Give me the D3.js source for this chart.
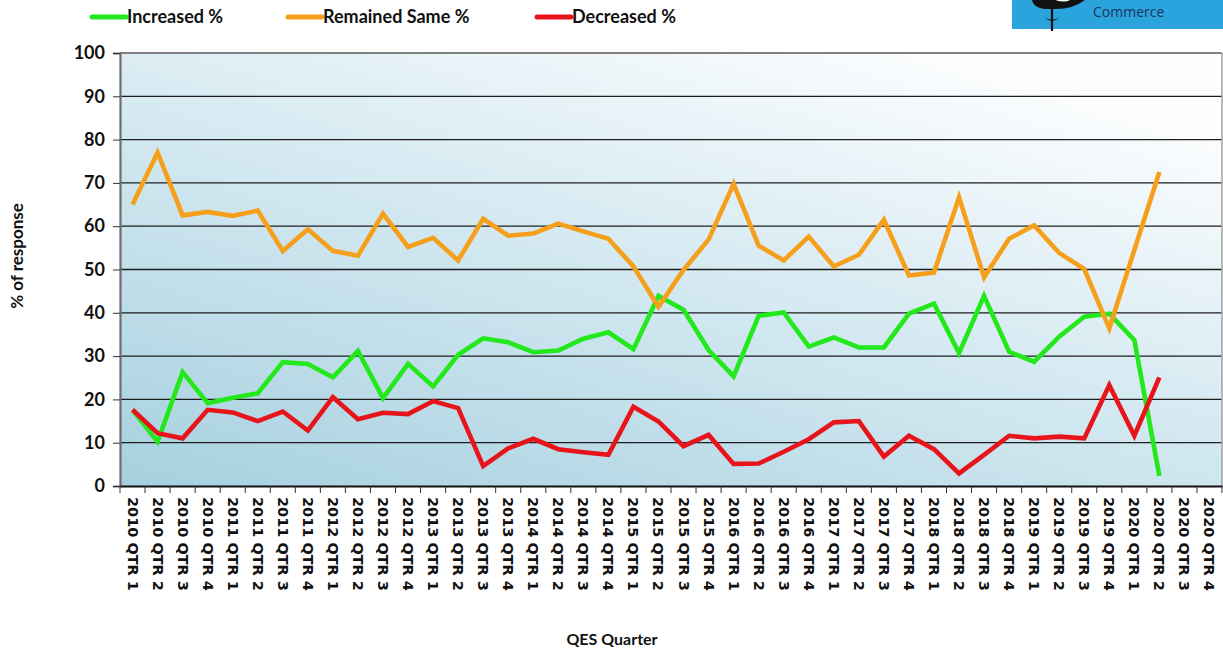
<!DOCTYPE html>
<html><head><meta charset="utf-8">
<script src="https://cdn.jsdelivr.net/npm/d3@7/dist/d3.min.js"></script>
<style>
body{margin:0;background:#fff;}
svg{display:block;}
</style></head>
<body>
<svg id="c" width="1223" height="653"></svg>
<script>
const categories = [
"2010 QTR 1","2010 QTR 2","2010 QTR 3","2010 QTR 4",
"2011 QTR 1","2011 QTR 2","2011 QTR 3","2011 QTR 4",
"2012 QTR 1","2012 QTR 2","2012 QTR 3","2012 QTR 4",
"2013 QTR 1","2013 QTR 2","2013 QTR 3","2013 QTR 4",
"2014 QTR 1","2014 QTR 2","2014 QTR 3","2014 QTR 4",
"2015 QTR 1","2015 QTR 2","2015 QTR 3","2015 QTR 4",
"2016 QTR 1","2016 QTR 2","2016 QTR 3","2016 QTR 4",
"2017 QTR 1","2017 QTR 2","2017 QTR 3","2017 QTR 4",
"2018 QTR 1","2018 QTR 2","2018 QTR 3","2018 QTR 4",
"2019 QTR 1","2019 QTR 2","2019 QTR 3","2019 QTR 4",
"2020 QTR 1","2020 QTR 2","2020 QTR 3","2020 QTR 4"];

const increased = [17.6,10.2,26.3,19.1,20.4,21.4,28.6,28.2,25.1,31.2,
 20.3,28.2,23.0,30.3,34.1,33.2,30.9,31.3,34.0,35.5,
 31.6,43.9,40.7,31.4,25.3,39.3,40.1,32.2,34.3,32.0,
 32.0,39.8,42.1,30.7,43.9,31.0,28.7,34.5,39.1,39.8,
 33.7,2.3,null,null];

const remainedSame = [65.0,77.0,62.5,63.3,62.4,63.6,54.3,59.3,54.3,53.2,
 62.9,55.2,57.3,52.1,61.7,57.8,58.3,60.6,58.8,57.1,
 50.7,41.4,49.9,56.9,69.8,55.5,52.1,57.6,50.7,53.4,
 61.5,48.6,49.3,66.7,48.2,57.1,60.2,53.8,50.1,36.4,
 54.5,72.5,null,null];

const decreased = [17.6,12.2,11.0,17.6,17.0,15.0,17.2,12.8,20.5,15.4,
 16.9,16.6,19.6,18.0,4.6,8.7,10.9,8.5,7.8,7.2,
 18.3,14.9,9.2,11.8,5.1,5.2,7.9,10.8,14.7,15.0,
 6.8,11.6,8.5,2.9,7.2,11.6,11.0,11.4,11.0,23.3,
 11.6,25.1,null,null];

const yTicks = [0,10,20,30,40,50,60,70,80,90,100];
const seriesNames = ["Increased %","Remained Same %","Decreased %"];
const seriesColors = ["#22e81c","#f59f1a","#e8141c"];

const svg = d3.select("#c");
const L = 120, R = 1222, T = 53, B = 486;

const x = d3.scaleBand().domain(categories).range([L, R]);
const y = d3.scaleLinear().domain([0, 100]).range([B, T]);

// gradient background
const defs = svg.append("defs");
const g = defs.append("linearGradient").attr("id","bg")
  .attr("x1","0%").attr("y1","100%").attr("x2","75%").attr("y2","0%");
g.append("stop").attr("offset","0%").attr("stop-color","#a6d0df");
g.append("stop").attr("offset","55%").attr("stop-color","#d4e9f1");
g.append("stop").attr("offset","100%").attr("stop-color","#fcfdfe");

svg.append("rect").attr("x",L).attr("y",T).attr("width",R-L).attr("height",B-T)
  .attr("fill","url(#bg)");

// gridlines
svg.append("g").selectAll("line").data(yTicks.filter(d=>d>0 && d<100)).join("line")
  .attr("x1",L).attr("x2",R).attr("y1",d=>y(d)).attr("y2",d=>y(d))
  .attr("stroke","#1e1e1e").attr("stroke-width",1.3);

// plot border top/right
svg.append("line").attr("x1",L).attr("x2",R).attr("y1",T).attr("y2",T)
  .attr("stroke","#808080").attr("stroke-width",2);
svg.append("line").attr("x1",R).attr("x2",R).attr("y1",T).attr("y2",B)
  .attr("stroke","#a0a0a0").attr("stroke-width",1.5);

// y axis
const yAxis = svg.append("g").attr("transform",`translate(${L},0)`)
  .call(d3.axisLeft(y).tickValues(yTicks).tickSize(7).tickPadding(8));
yAxis.select(".domain").attr("stroke","#6e6e6e").attr("stroke-width",2.2);
yAxis.selectAll(".tick line").attr("stroke","#333");
yAxis.selectAll("text").attr("font-family","Lato, 'Open Sans', sans-serif")
  .attr("font-weight","bold").attr("font-size","18px").attr("fill","#111");

// x axis
const xAxis = svg.append("g").attr("transform",`translate(0,${B})`)
  .call(d3.axisBottom(x).tickSize(0));
xAxis.select(".domain").attr("stroke","#111").attr("stroke-width",2);
// ticks at band boundaries
const bounds = categories.map(c=>x(c)).concat([R]);
xAxis.append("g").selectAll("line").data(bounds).join("line")
  .attr("x1",d=>d).attr("x2",d=>d).attr("y1",0).attr("y2",7)
  .attr("stroke","#333").attr("stroke-width",1);
xAxis.selectAll(".tick text")
  .attr("transform","rotate(90)")
  .attr("text-anchor","start")
  .attr("dominant-baseline","central")
  .attr("x",11).attr("y",0).attr("dy",null)
  .attr("font-family","'DejaVu Sans', sans-serif")
  .attr("font-weight","bold").attr("font-size","14.5px").attr("fill","#111");

// lines
const allSeries = [increased, remainedSame, decreased];
const line = d3.line()
  .defined(d=>d.v!=null)
  .x(d=>x(d.c)+x.bandwidth()/2)
  .y(d=>y(d.v));
allSeries.forEach((s,i)=>{
  svg.append("path")
    .datum(s.map((v,j)=>({c:categories[j], v})))
    .attr("d",line)
    .attr("fill","none")
    .attr("stroke",seriesColors[i])
    .attr("stroke-width",4.6)
    .attr("stroke-linejoin","miter")
    .attr("stroke-linecap","butt");
});

// legend
const legendX = [92, 288, 537];
seriesNames.forEach((n,i)=>{
  svg.append("line").attr("x1",legendX[i]).attr("x2",legendX[i]+34)
    .attr("y1",17).attr("y2",17)
    .attr("stroke",seriesColors[i]).attr("stroke-width",5).attr("stroke-linecap","round");
  svg.append("text").attr("x",legendX[i]+35).attr("y",23)
    .attr("font-family","Lato, sans-serif").attr("font-weight","bold")
    .attr("font-size","18px").attr("fill","#111").text(n);
});

// axis titles
svg.append("text").attr("transform","translate(23,256) rotate(-90)")
  .attr("text-anchor","middle")
  .attr("font-family","Lato, sans-serif").attr("font-weight","bold")
  .attr("font-size","17px").attr("fill","#111").text("% of response");
svg.append("text").attr("x",612).attr("y",645)
  .attr("text-anchor","middle")
  .attr("font-family","Lato, sans-serif").attr("font-weight","bold")
  .attr("font-size","16px").attr("fill","#111").text("QES Quarter");

// logo (top right)
const logo = svg.append("g");
logo.append("rect").attr("x",1012).attr("y",0).attr("width",211).attr("height",29).attr("fill","#2ba3dc");
logo.append("path").attr("d","M1032,0 Q1034,10 1052,9 Q1072,10 1085,0 Z").attr("fill","#111");
logo.append("path").attr("d","M1055,0 Q1065,3 1070,0 Z").attr("fill","#fff");
logo.append("line").attr("x1",1052).attr("x2",1052).attr("y1",8).attr("y2",31).attr("stroke","#111").attr("stroke-width",2.2);
logo.append("path").attr("d","M1045,18 Q1052,24 1059,18 Q1052,21 1045,18 Z").attr("fill","#111");
logo.append("text").attr("x",1093).attr("y",17).attr("font-family","'Open Sans', sans-serif")
  .attr("font-size","14px").attr("fill","#1c355e").text("Commerce");
</script>
</body></html>
